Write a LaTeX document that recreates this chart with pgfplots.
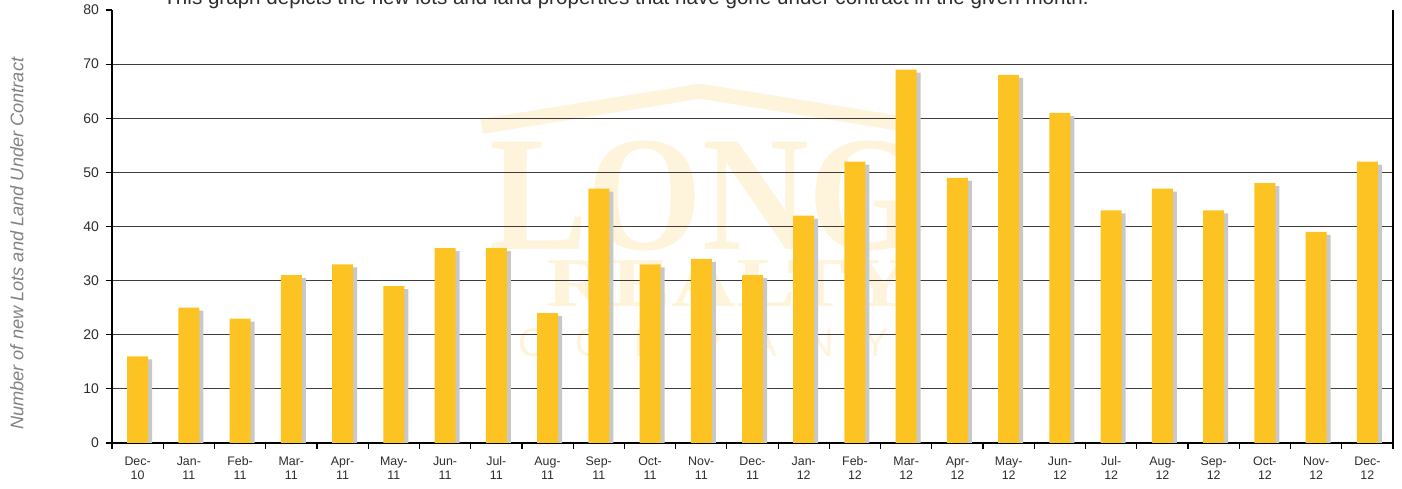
\documentclass[border=0pt]{standalone}
\usepackage{pgfplots}
\pgfplotsset{compat=1.18}
\usepackage{fontspec}
\setmainfont{Liberation Sans}
\newfontfamily\wmserif{Liberation Serif}
\definecolor{baryellow}{RGB}{253,195,35}
\definecolor{shadowgray}{RGB}{200,200,200}
\definecolor{gridgray}{RGB}{60,60,60}
\definecolor{wmcolor}{RGB}{253,244,219}
\definecolor{labelgray}{RGB}{130,130,130}
\definecolor{ticktext}{RGB}{45,45,45}
\newcommand{\tl}[2]{\strut #1\\\strut #2}
\pgfplotstableread{
x y
0 16
1 25
2 23
3 31
4 33
5 29
6 36
7 36
8 24
9 47
10 33
11 34
12 31
13 42
14 52
15 69
16 49
17 68
18 61
19 43
20 47
21 43
22 48
23 39
24 52
}\datatable
\begin{document}
\begin{tikzpicture}
% watermark layer
\begin{axis}[
  name=wm,
  scale only axis, width=640.5pt, height=216.5pt,
  xmin=-0.5, xmax=24.5, ymin=0, ymax=80,
  hide axis, clip=false,
]
\draw[wmcolor, line width=7.5pt, line join=miter] (axis cs:6.72,58.5) -- (axis cs:10.98,65.0) -- (axis cs:15.23,58.5);
\node[wmcolor, font=\wmserif\bfseries\fontsize{82}{82}\selectfont, anchor=center, xscale=0.9, inner sep=0pt, text depth=0pt] at (axis cs:11.1,45.8) {LONG};
\node[wmcolor, font=\wmserif\bfseries\fontsize{35}{35}\selectfont, anchor=center, xscale=1.28, inner sep=0pt, text depth=0pt] at (axis cs:11.55,29.4) {REALTY};
\node[wmcolor, font=\fontsize{20}{20}\selectfont, anchor=center, inner sep=0pt] at (axis cs:11.05,18.6) {C\hspace{14pt}O\hspace{14pt}M\hspace{14pt}P\hspace{14pt}A\hspace{14pt}N\hspace{14pt}Y};
\end{axis}
\begin{axis}[
  name=main,
  scale only axis, width=640.5pt, height=216.5pt,
  xmin=-0.5, xmax=24.5, ymin=0, ymax=80,
  axis x line*=bottom, axis y line*=left,
  axis line style={black, line width=0.6pt, -},
  tick align=outside,
  ytick={0,10,...,70},
  extra y ticks={80},
  extra y tick style={grid=none},
  ymajorgrids,
  grid style={gridgray, line width=0.6pt},
  y tick style={black, line width=0.6pt},
  major tick length=3pt,
  yticklabel style={font=\fontsize{7}{8}\selectfont, text=ticktext},
  /pgf/number format/assume math mode=true,
  xtick={-0.5,0.5,...,24.5},
  xticklabels={},
  x tick style={black, line width=0.6pt},
  extra x ticks={0,...,24},
  extra x tick style={major tick length=0pt, xticklabel style={yshift=-5.5pt}},
  extra x tick labels={{\tl{Dec-}{10}},{\tl{Jan-}{11}},{\tl{Feb-}{11}},{\tl{Mar-}{11}},{\tl{Apr-}{11}},{\tl{May-}{11}},{\tl{Jun-}{11}},{\tl{Jul-}{11}},{\tl{Aug-}{11}},{\tl{Sep-}{11}},{\tl{Oct-}{11}},{\tl{Nov-}{11}},{\tl{Dec-}{11}},{\tl{Jan-}{12}},{\tl{Feb-}{12}},{\tl{Mar-}{12}},{\tl{Apr-}{12}},{\tl{May-}{12}},{\tl{Jun-}{12}},{\tl{Jul-}{12}},{\tl{Aug-}{12}},{\tl{Sep-}{12}},{\tl{Oct-}{12}},{\tl{Nov-}{12}},{\tl{Dec-}{12}}},
  xticklabel style={align=center, font=\fontsize{6.2}{6.8}\selectfont, text=ticktext, inner ysep=1pt},
  ylabel={\itshape Number of new Lots and Land Under Contract},
  every axis y label/.style={at={(rel axis cs:0,0.46)}, xshift=-47.5pt, rotate=90, anchor=center, font=\fontsize{9.1}{10}\selectfont, text=labelgray},
  clip=true,
]
\addplot[ybar, bar width=10.5pt, bar shift=2pt, fill=shadowgray, draw=none, yshift=-1.5pt] table[x=x,y=y] {\datatable};
\addplot[ybar, bar width=10.5pt, bar shift=0pt, fill=baryellow, draw=none] table[x=x,y=y] {\datatable};
\end{axis}
\draw[black, line width=0.6pt] (main.south east) -- (main.north east);
\node[anchor=base west, font=\fontsize{10.3}{11}\selectfont, text=ticktext, inner xsep=0pt] at ([xshift=25.5pt, yshift=2.5pt]main.north west) {This graph depicts the new lots and land properties that have gone under contract in the given month.};
\pgfresetboundingbox
\path[use as bounding box] ([xshift=-56pt, yshift=-23pt]main.south west) rectangle ([xshift=4.5pt, yshift=5pt]main.north east);
\end{tikzpicture}
\end{document}
